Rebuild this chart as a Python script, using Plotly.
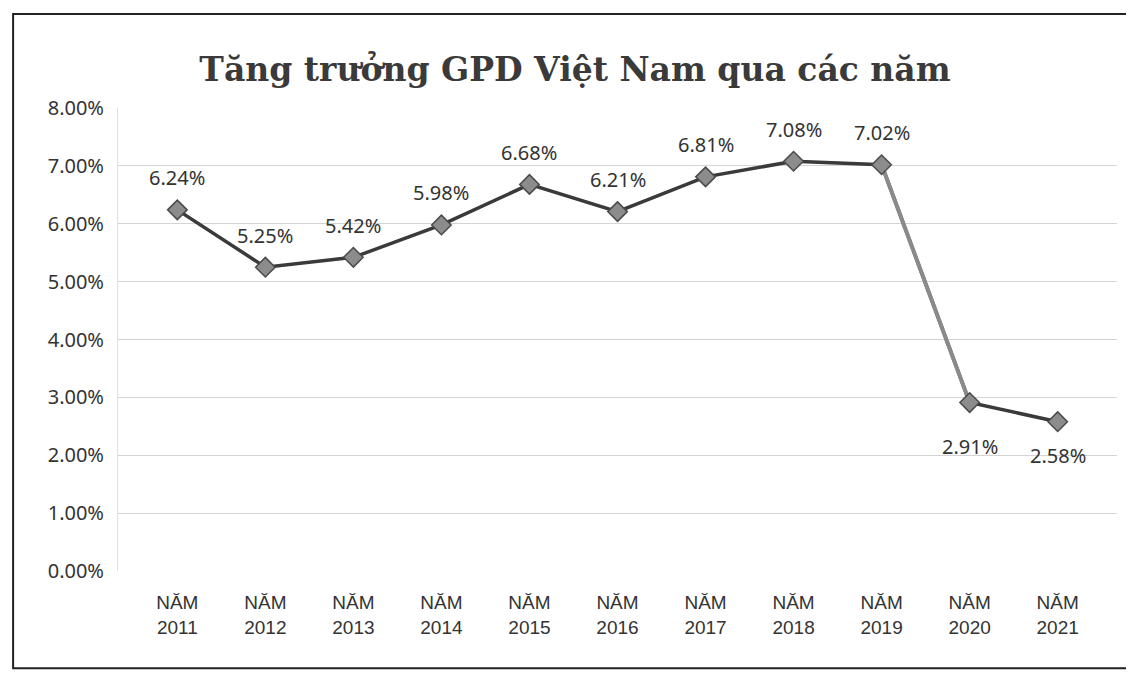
import plotly.graph_objects as go

years = ["2011", "2012", "2013", "2014", "2015", "2016", "2017", "2018", "2019", "2020", "2021"]
categories = ["NĂM<br>" + y for y in years]
growth_pct = [6.24, 5.25, 5.42, 5.98, 6.68, 6.21, 6.81, 7.08, 7.02, 2.91, 2.58]
label_shift = [32, 32, 32, 32, 32, 32, 32, 32, 32, -44, -34]
y_ticks = [0, 1, 2, 3, 4, 5, 6, 7, 8]

values = [v / 100 for v in growth_pct]
labels = [f"{v:.2f}%" for v in growth_pct]

fig = go.Figure()
# main dark line
fig.add_trace(go.Scatter(
    x=categories, y=values, mode="lines",
    line=dict(color="#3a3a3a", width=3.5),
    showlegend=False, hoverinfo="skip",
))
# lighter steep segment 2019 -> 2020
fig.add_trace(go.Scatter(
    x=categories[8:10], y=values[8:10], mode="lines",
    line=dict(color="#8a8a8a", width=4),
    showlegend=False, hoverinfo="skip",
))
# markers
fig.add_trace(go.Scatter(
    x=categories, y=values, mode="markers",
    marker=dict(symbol="diamond", size=15, color="#8c8c8c",
                line=dict(color="#4a4a4a", width=1.5)),
    showlegend=False,
))

annotations = [
    dict(x=c, y=v, text=t, showarrow=False, yshift=s, xref="x", yref="y",
         font=dict(family="Noto Sans, DejaVu Sans, sans-serif", size=20, color="#333333"))
    for c, v, t, s in zip(categories, values, labels, label_shift)
]

fig.update_layout(
    width=1134, height=678,
    margin=dict(l=110, r=25, t=100, b=115),
    paper_bgcolor="white", plot_bgcolor="white",
    title=dict(text="Tăng trưởng GPD Việt Nam qua các năm",
               x=0.5, xanchor="center", y=0.91, yanchor="middle",
               font=dict(family="DejaVu Serif, Liberation Serif, serif", size=33,
                         color="#3a3a3a", weight="bold")),
    xaxis=dict(type="category", showgrid=False, showline=False, ticks="",
               tickfont=dict(family="Liberation Sans, Arial, sans-serif", size=19, color="#333333"),
               ticklabelstandoff=18),
    yaxis=dict(range=[0, 0.08], tickvals=[t / 100 for t in y_ticks], tickformat=".2%",
               showgrid=True, gridcolor="#d4d4d4", gridwidth=1,
               zeroline=False, showline=True, linecolor="#e0e0e0",
               tickfont=dict(family="Noto Sans, DejaVu Sans, sans-serif", size=20, color="#333333"),
               ticklabelstandoff=9),
    annotations=annotations,
    shapes=[dict(type="rect", xref="paper", yref="paper",
                 x0=-0.105, x1=1.02, y0=-0.21, y1=1.203,
                 line=dict(color="#222222", width=2))],
)

fig.write_html("out.html")
